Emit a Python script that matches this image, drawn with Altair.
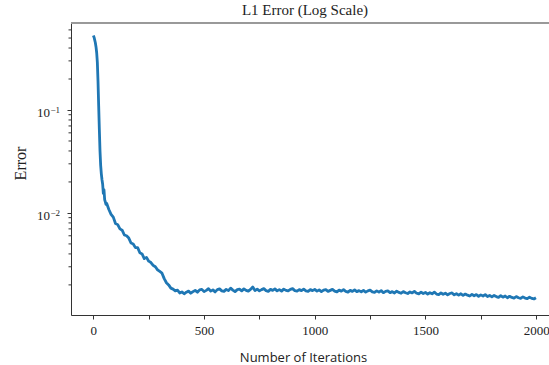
import altair as alt
import pandas as pd

# Iterations (x) and L1 error (y)
iters_head = [0, 3, 6, 9, 12, 15, 18, 21, 24, 27, 30, 33, 36, 39, 42, 45, 48, 51, 54, 57]
err_head = [0.53, 0.51, 0.48, 0.45, 0.41, 0.36, 0.29, 0.19, 0.11, 0.065, 0.040, 0.029,
            0.024, 0.021, 0.019, 0.0155, 0.0168, 0.0135, 0.0128, 0.0121]

iters_tail = list(range(60, 2000, 10)) + [1999]
err_tail = [
    0.0124, 0.0108, 0.0097, 0.0091, 0.0079, 0.0077, 0.0070, 0.0068, 0.0061, 0.0060,
    0.0057, 0.0051, 0.0050, 0.0046, 0.0046, 0.0041, 0.0040, 0.0036, 0.0037, 0.0034,
    0.0033, 0.0031, 0.0030, 0.0028, 0.0027, 0.0026, 0.0023, 0.0021, 0.0020, 0.00186,
    0.00182, 0.00175, 0.00178, 0.00167, 0.00171, 0.00164, 0.00170, 0.00174, 0.00166, 0.00172,
    0.00177, 0.00170, 0.00179, 0.00181, 0.00172, 0.00177, 0.00184, 0.00174, 0.00179, 0.00171,
    0.00180, 0.00183, 0.00175, 0.00173, 0.00181, 0.00176, 0.00186, 0.00178, 0.00172, 0.00180,
    0.00182, 0.00175, 0.00183, 0.00177, 0.00174, 0.00181, 0.00191, 0.00176, 0.00182, 0.00175,
    0.00180, 0.00184, 0.00176, 0.00173, 0.00181, 0.00177, 0.00183, 0.00175, 0.00180, 0.00174,
    0.00182, 0.00177, 0.00175, 0.00181, 0.00184, 0.00176, 0.00174, 0.00180, 0.00176, 0.00182,
    0.00175, 0.00173, 0.00180, 0.00176, 0.00181, 0.00174, 0.00179, 0.00172, 0.00178, 0.00180,
    0.00173, 0.00177, 0.00181, 0.00174, 0.00171, 0.00178, 0.00174, 0.00180, 0.00173, 0.00170,
    0.00177, 0.00173, 0.00179, 0.00172, 0.00176, 0.00171, 0.00177, 0.00170, 0.00175, 0.00178,
    0.00171, 0.00169, 0.00175, 0.00170, 0.00176, 0.00168, 0.00173, 0.00175, 0.00168, 0.00172,
    0.00167, 0.00174, 0.00169, 0.00166, 0.00172, 0.00168, 0.00165, 0.00171, 0.00167, 0.00173,
    0.00166, 0.00164, 0.00170, 0.00165, 0.00169, 0.00163, 0.00168, 0.00164, 0.00170, 0.00163,
    0.00161, 0.00167, 0.00162, 0.00166, 0.00160, 0.00165, 0.00167, 0.00160, 0.00164, 0.00159,
    0.00164, 0.00158, 0.00163, 0.00159, 0.00156, 0.00162, 0.00157, 0.00161, 0.00155, 0.00160,
    0.00156, 0.00161, 0.00154, 0.00158, 0.00153, 0.00158, 0.00154, 0.00151, 0.00157, 0.00152,
    0.00156, 0.00150, 0.00155, 0.00151, 0.00149, 0.00154, 0.00150, 0.00148, 0.00153, 0.00149,
    0.00147, 0.00152, 0.00148, 0.00146, 0.00150,
]

x_ticks = [0, 250, 500, 750, 1000, 1250, 1500, 1750, 2000]
y_major = [0.01, 0.1]
y_base = ["10", "10"]
y_exp = ["\u22122", "\u22121"]
y_minor = [0.002, 0.003, 0.004, 0.005, 0.006, 0.007, 0.008, 0.009,
           0.02, 0.03, 0.04, 0.05, 0.06, 0.07, 0.08, 0.09,
           0.2, 0.3, 0.4, 0.5, 0.6]

df = pd.DataFrame({"iter": iters_head + iters_tail, "err": err_head + err_tail})
minor_df = pd.DataFrame({"v": y_minor})
major_df = pd.DataFrame({"v": y_major, "base": y_base, "exp": y_exp})

SERIF = "Liberation Serif"
AX = "#333333"

x_scale = alt.Scale(domain=[-101, 2058], nice=False, zero=False)
y_scale = alt.Scale(type="log", domain=[0.00102, 0.70], nice=False)

line = alt.Chart(df).mark_line(color="#1f77b4", strokeWidth=2.8, strokeJoin="round",
                               clip=True).encode(
    x=alt.X("iter:Q", scale=x_scale,
            axis=alt.Axis(values=x_ticks,
                          labelExpr="datum.value % 500 == 0 ? datum.label : ''",
                          format="d", title="Number of Iterations",
                          titleFont="Open Sans", titleFontSize=13, titleFontWeight="normal",
                          titleColor="#222", titleX=232, titleY=46,
                          titleAlign="center", titleBaseline="alphabetic",
                          labelFont=SERIF, labelFontSize=13, labelColor="#222",
                          labelPadding=5, tickSize=4, tickColor=AX, domainColor=AX,
                          grid=False, labelOverlap=False, labelFlush=False)),
    y=alt.Y("err:Q", scale=y_scale,
            axis=alt.Axis(values=y_major, labels=False,
                          title="Error", titleFont=SERIF, titleFontSize=16,
                          titleFontWeight="normal", titleColor="#222",
                          titleX=-46, titleY=140, titleAngle=270, titleAlign="center",
                          titleBaseline="alphabetic",
                          tickSize=4, tickColor=AX, domainColor=AX,
                          grid=False)),
)

minor = alt.Chart(minor_df).mark_rule(color=AX, strokeWidth=1).encode(
    y=alt.Y("v:Q", scale=y_scale),
    x=alt.value(-2.5),
    x2=alt.value(0),
)

base_lbl = alt.Chart(major_df).mark_text(font=SERIF, fontSize=13, color="#222",
                                         align="right", baseline="alphabetic",
                                         dy=7).encode(
    y=alt.Y("v:Q", scale=y_scale), x=alt.value(-21), text="base:N"
)

exp_lbl = alt.Chart(major_df).mark_text(font=SERIF, fontSize=9, color="#222",
                                        align="left", baseline="alphabetic",
                                        dy=3).encode(
    y=alt.Y("v:Q", scale=y_scale), x=alt.value(-20.5), text="exp:N"
)

top = alt.Chart(minor_df).mark_rule(color="#999999", strokeWidth=1).encode(
    x=alt.value(0), x2=alt.value(478), y=alt.value(0)
)

chart = alt.layer(line, minor, base_lbl, exp_lbl, top).properties(
    width=478, height=292,
    title=alt.TitleParams("L1 Error (Log Scale)", font=SERIF, fontSize=15,
                          fontWeight="normal", color="#222", anchor="middle",
                          dx=-5, offset=5),
    autosize=alt.AutoSizeParams(type="none"),
    padding={"left": 71, "top": 23, "right": 0, "bottom": 50},
).configure_view(stroke=None).configure(background="white")

chart.save("out.html", embed_options={"renderer": "svg", "actions": False})
